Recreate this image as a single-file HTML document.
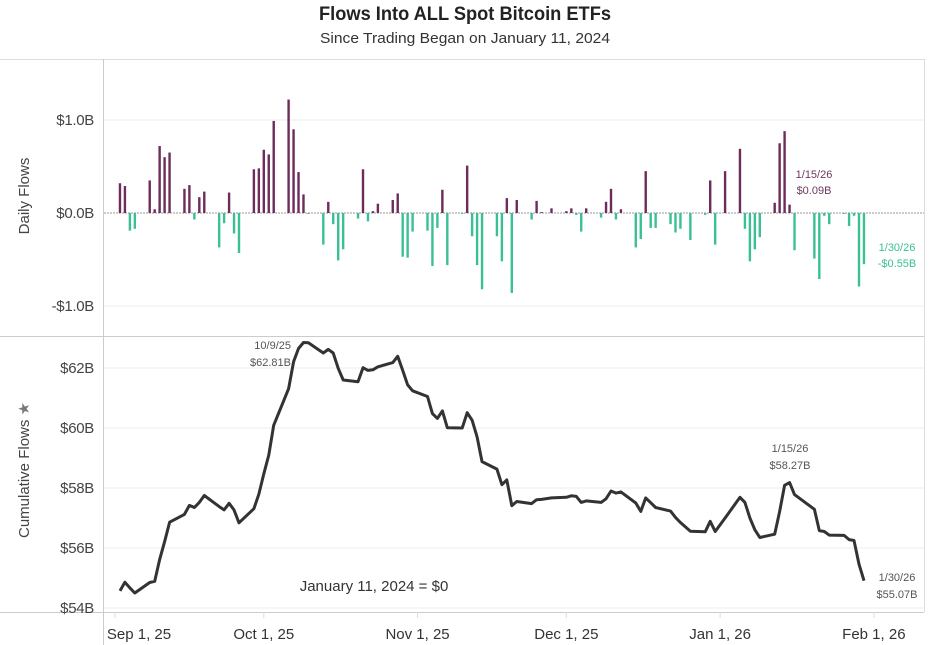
<!DOCTYPE html>
<html><head><meta charset="utf-8"><style>
body{margin:0;background:#fff;}
svg{display:block;font-family:"Liberation Sans",sans-serif;}
</style></head><body>
<svg id="chart" width="929" height="645">
<text x="465" y="20" text-anchor="middle" font-size="19" font-weight="bold" fill="#222" textLength="292" lengthAdjust="spacingAndGlyphs">Flows Into ALL Spot Bitcoin ETFs</text>
<text x="465" y="43" text-anchor="middle" font-size="15" fill="#333" textLength="290" lengthAdjust="spacingAndGlyphs">Since Trading Began on January 11, 2024</text>
<g id="frame">
<line x1="0" y1="59.5" x2="924" y2="59.5" stroke="#ddd"/>
<line x1="924.5" y1="59" x2="924.5" y2="612" stroke="#ddd"/>
<line x1="0" y1="336.5" x2="924" y2="336.5" stroke="#ccc"/>
<line x1="0" y1="612.5" x2="924" y2="612.5" stroke="#ccc"/>
<line x1="103.5" y1="59" x2="103.5" y2="645" stroke="#ccc"/>
</g>
<g id="grid"></g>
<g id="bars"></g>
<g id="line"></g>
<g id="labels"></g>
<text transform="translate(29,196) rotate(-90)" text-anchor="middle" font-size="15" fill="#444">Daily Flows</text>
<text transform="translate(29,470) rotate(-90)" text-anchor="middle" font-size="15" fill="#444">Cumulative Flows <tspan fill="#777">★</tspan></text>
<text x="814" y="178" text-anchor="middle" font-size="11" fill="#6b3a5e">1/15/26</text>
<text x="814" y="194" text-anchor="middle" font-size="11" fill="#6b3a5e">$0.09B</text>
<text x="897" y="251" text-anchor="middle" font-size="11" fill="#3bbf95">1/30/26</text>
<text x="897" y="267" text-anchor="middle" font-size="11" fill="#3bbf95">-$0.55B</text>
<text x="291" y="349" text-anchor="end" font-size="11" fill="#555">10/9/25</text>
<text x="291" y="366" text-anchor="end" font-size="11" fill="#555">$62.81B</text>
<text x="790" y="452" text-anchor="middle" font-size="11" fill="#555">1/15/26</text>
<text x="790" y="469" text-anchor="middle" font-size="11" fill="#555">$58.27B</text>
<text x="897" y="581" text-anchor="middle" font-size="11" fill="#555">1/30/26</text>
<text x="897" y="598" text-anchor="middle" font-size="11" fill="#555">$55.07B</text>
<text x="374" y="591" text-anchor="middle" font-size="15" fill="#333">January 11, 2024 = $0</text>
</svg>
<script>
const dates = ["2025-09-02","2025-09-03","2025-09-04","2025-09-05",
"2025-09-08","2025-09-09","2025-09-10","2025-09-11","2025-09-12",
"2025-09-15","2025-09-16","2025-09-17","2025-09-18","2025-09-19",
"2025-09-22","2025-09-23","2025-09-24","2025-09-25","2025-09-26",
"2025-09-29","2025-09-30","2025-10-01","2025-10-02","2025-10-03",
"2025-10-06","2025-10-07","2025-10-08","2025-10-09","2025-10-10",
"2025-10-13","2025-10-14","2025-10-15","2025-10-16","2025-10-17",
"2025-10-20","2025-10-21","2025-10-22","2025-10-23","2025-10-24",
"2025-10-27","2025-10-28","2025-10-29","2025-10-30","2025-10-31",
"2025-11-03","2025-11-04","2025-11-05","2025-11-06","2025-11-07",
"2025-11-10","2025-11-11","2025-11-12","2025-11-13","2025-11-14",
"2025-11-17","2025-11-18","2025-11-19","2025-11-20","2025-11-21",
"2025-11-24","2025-11-25","2025-11-26","2025-11-28",
"2025-12-01","2025-12-02","2025-12-03","2025-12-04","2025-12-05",
"2025-12-08","2025-12-09","2025-12-10","2025-12-11","2025-12-12",
"2025-12-15","2025-12-16","2025-12-17","2025-12-18","2025-12-19",
"2025-12-22","2025-12-23","2025-12-24","2025-12-26",
"2025-12-29","2025-12-30","2025-12-31","2026-01-02",
"2026-01-05","2026-01-06","2026-01-07","2026-01-08","2026-01-09",
"2026-01-12","2026-01-13","2026-01-14","2026-01-15","2026-01-16",
"2026-01-20","2026-01-21","2026-01-22","2026-01-23",
"2026-01-26","2026-01-27","2026-01-28","2026-01-29","2026-01-30"];
const dailyFlows = [0.32,0.29,-0.19,-0.17,
0.35,0.04,0.72,0.60,0.65,
0.26,0.30,-0.07,0.17,0.23,
-0.37,-0.11,0.22,-0.22,-0.43,
0.47,0.48,0.68,0.63,0.99,
1.22,0.90,0.44,0.20,-0.01,
-0.34,0.12,-0.12,-0.51,-0.39,
-0.06,0.47,-0.09,0.02,0.10,
0.14,0.21,-0.47,-0.48,-0.20,
-0.19,-0.57,-0.16,0.25,-0.56,
-0.01,0.51,-0.25,-0.56,-0.82,
-0.25,-0.52,0.16,-0.86,0.14,
-0.07,0.13,0.01,0.05,
0.02,0.05,-0.02,-0.20,0.05,
-0.05,0.12,0.26,-0.07,0.04,
-0.37,-0.28,0.45,-0.16,-0.16,
-0.12,-0.21,-0.17,-0.29,
-0.02,0.35,-0.34,0.45,
0.69,-0.17,-0.52,-0.39,-0.26,
0.11,0.75,0.88,0.09,-0.40,
-0.49,-0.71,-0.03,-0.12,
-0.01,-0.14,-0.03,-0.79,-0.55];
const startingCumulative = 54.25;
const dailyTicks = [1.0, 0.0, -1.0];
const dailyTickLabels = ["$1.0B","$0.0B","-$1.0B"];
const cumTicks = [54,56,58,60,62];
const cumTickLabels = ["$54B","$56B","$58B","$60B","$62B"];
const xTickDates = ["2025-09-01","2025-10-01","2025-11-01","2025-12-01","2026-01-01","2026-02-01"];
const xTickLabels = ["Sep 1, 25","Oct 1, 25","Nov 1, 25","Dec 1, 25","Jan 1, 26","Feb 1, 26"];

const NS="http://www.w3.org/2000/svg";
const t0=Date.UTC(2025,8,1);
function dayIdx(s){const p=s.split("-");return (Date.UTC(+p[0],+p[1]-1,+p[2])-t0)/86400000;}
function x(s){return 115+dayIdx(s)*4.96;}
function yDaily(v){return 213-v*93;}
function yCum(v){return 608-(v-54)*30;}
function mk(tag,attrs,parent){const e=document.createElementNS(NS,tag);for(const k in attrs)e.setAttribute(k,attrs[k]);parent.appendChild(e);return e;}

const grid=document.getElementById("grid"), labels=document.getElementById("labels");
dailyTicks.forEach((v,i)=>{
  const g=mk("line",{x1:104,x2:924,y1:yDaily(v),y2:yDaily(v),stroke:v===0?"#999":"#eee","stroke-dasharray":v===0?"2,1":"none"},grid);
  
  
  const t=mk("text",{x:94,y:yDaily(v)+5,"text-anchor":"end","font-size":15,fill:"#444","letter-spacing":"-0.3"},labels);
  t.textContent=dailyTickLabels[i];
  
  
});
cumTicks.forEach((v,i)=>{
  const g=mk("line",{x1:104,x2:924,y1:yCum(v),y2:yCum(v),stroke:"#eee"},grid);
  
  
  const t=mk("text",{x:94,y:yCum(v)+5,"text-anchor":"end","font-size":15,fill:"#444","letter-spacing":"-0.3"},labels);
  t.textContent=cumTickLabels[i];
  
  
});
xTickDates.forEach((d,i)=>{
  let cx=x(d); if(i===0) cx=139;
  const tk=mk("line",{x1:x(d),x2:x(d),y1:612,y2:618,stroke:"#ddd"},grid);
  
  
  const t=mk("text",{x:cx,y:639,"text-anchor":"middle","font-size":15,fill:"#333"},labels);
  t.textContent=xTickLabels[i];
  
  
});
const bars=document.getElementById("bars");
dailyFlows.forEach((v,i)=>{
  const y0=yDaily(0), y1=yDaily(v);
  const r=mk("rect",{x:x(dates[i])-1.2,y:Math.min(y0,y1),width:2.4,height:Math.max(0.8,Math.abs(y1-y0)),fill:v>=0?"#6e2c5a":"#3bbf95"},bars);
  
  
});
let c=startingCumulative, pts=[];
dailyFlows.forEach((v,i)=>{c+=v;pts.push(x(dates[i]).toFixed(1)+","+yCum(c).toFixed(1));});
const pl=mk("polyline",{points:pts.join(" "),fill:"none",stroke:"#333","stroke-width":3,"stroke-linejoin":"round"},document.getElementById("line"));


</script>
</body></html>
